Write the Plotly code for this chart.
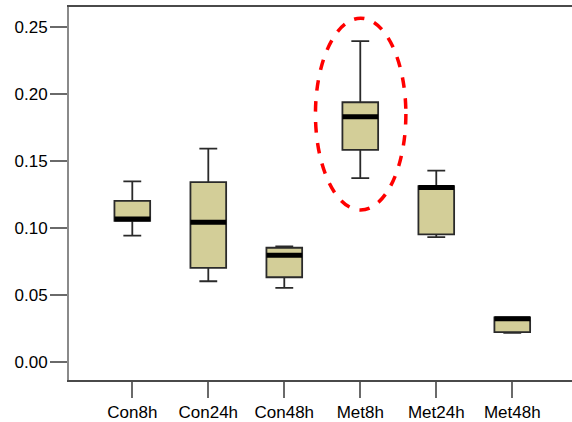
import plotly.graph_objects as go

categories = ["Con8h", "Con24h", "Con48h", "Met8h", "Met24h", "Met48h"]
lower_whisker = [0.094, 0.060, 0.055, 0.137, 0.093, 0.0215]
q1_values = [0.105, 0.070, 0.063, 0.158, 0.095, 0.022]
median_values = [0.1065, 0.104, 0.0795, 0.1828, 0.130, 0.032]
q3_values = [0.120, 0.134, 0.085, 0.1936, 0.131, 0.033]
upper_whisker = [0.1345, 0.159, 0.086, 0.2393, 0.1425, 0.033]
y_tick_values = [0.00, 0.05, 0.10, 0.15, 0.20, 0.25]
highlight_category = "Met8h"

positions = list(range(len(categories)))
box_width = 0.47

fig = go.Figure()
fig.add_trace(go.Box(
    x=positions,
    q1=q1_values,
    median=median_values,
    q3=q3_values,
    lowerfence=lower_whisker,
    upperfence=upper_whisker,
    width=box_width,
    whiskerwidth=0.5,
    fillcolor="#D3CE98",
    line=dict(color="#2a2a2a", width=1.8),
    boxpoints=False,
    hoverinfo="skip",
    showlegend=False,
))

# thick median bars
mx, my = [], []
for p, m in zip(positions, median_values):
    mx += [p - box_width / 2, p + box_width / 2, None]
    my += [m, m, None]
fig.add_trace(go.Scatter(
    x=mx, y=my, mode="lines",
    line=dict(color="black", width=5),
    hoverinfo="skip", showlegend=False,
))

# dashed red ellipse around the highlighted group
hi = categories.index(highlight_category)
fig.add_shape(
    type="circle", xref="x", yref="y",
    x0=hi - 0.59, x1=hi + 0.60, y0=0.1132, y1=0.2563,
    line=dict(color="#FF0000", width=3.5, dash="dash"),
)

tick_font = dict(family="Liberation Sans, Arial, sans-serif", size=17, color="black")

fig.update_layout(
    width=572, height=422,
    margin=dict(l=69, r=0, t=7, b=42, autoexpand=False),
    paper_bgcolor="white", plot_bgcolor="white",
    font=tick_font,
    xaxis=dict(
        range=[-0.833, 5.786], automargin=False,
        tickvals=positions, ticktext=categories, tickfont=tick_font,
        showgrid=False, zeroline=False,
        showline=True, linecolor="#4a4a4a", linewidth=2, mirror=True,
        ticks="outside", ticklen=16, tickwidth=2, tickcolor="#6a6a6a",
    ),
    yaxis=dict(
        range=[-0.0137, 0.2647], automargin=False,
        tickvals=y_tick_values, tickformat=".2f", tickfont=tick_font,
        showgrid=False, zeroline=False,
        showline=True, linecolor="#8a8a8a", linewidth=2,
        ticks="outside", ticklen=17, tickwidth=2, tickcolor="#6a6a6a",
        ticklabelstandoff=-1,
    ),
)

fig.write_html(
    "out.html",
    config={"displayModeBar": False, "staticPlot": True},
    post_script="document.body.style.margin='0px';document.body.style.overflow='hidden';",
)
